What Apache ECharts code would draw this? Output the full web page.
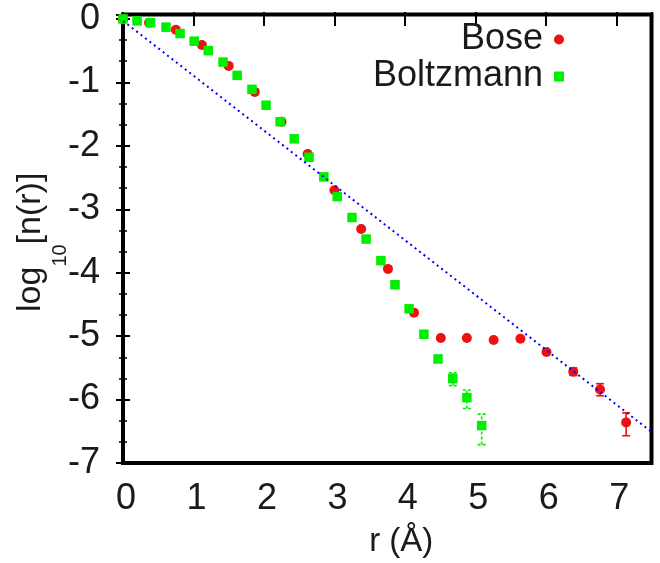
<!DOCTYPE html>
<html>
<head>
<meta charset="utf-8">
<script src="https://cdn.jsdelivr.net/npm/echarts@6/dist/echarts.min.js"></script>
<style>
html,body{margin:0;padding:0;background:#fff;}
#chart{width:660px;height:563px;}
</style>
</head>
<body>
<div id="chart"></div>
<script>
// ---- data ----
const boseR   = [0, 0.37, 0.75, 1.12, 1.50, 1.87, 2.25, 2.62, 3.00, 3.38, 3.76, 4.13, 4.51, 4.88, 5.26, 5.64, 6.01, 6.39, 6.77, 7.14];
const boseLog = [0, -0.06, -0.17, -0.41, -0.74, -1.15, -1.62, -2.13, -2.70, -3.31, -3.94, -4.63, -5.03, -5.03, -5.06, -5.04, -5.25, -5.56, -5.84, -6.36];
const boseErrR  = [6.39, 6.77, 7.14];
const boseErrLo = [-5.62, -5.94, -6.57];
const boseErrHi = [-5.50, -5.75, -6.21];

const boltzR   = [0, 0.20, 0.39, 0.61, 0.81, 1.01, 1.21, 1.42, 1.62, 1.83, 2.03, 2.23, 2.43, 2.64, 2.85, 3.04, 3.25, 3.45, 3.66, 3.86, 4.06, 4.27, 4.47, 4.68, 4.88, 5.09];
const boltzLog = [0, -0.03, -0.06, -0.13, -0.23, -0.35, -0.50, -0.68, -0.89, -1.11, -1.36, -1.62, -1.89, -2.18, -2.49, -2.80, -3.13, -3.47, -3.81, -4.19, -4.57, -4.97, -5.36, -5.67, -5.97, -6.41];
const boltzErrR  = [4.68, 4.88, 5.09];
const boltzErrLo = [-5.78, -6.14, -6.71];
const boltzErrHi = [-5.58, -5.85, -6.23];

const fitR   = [0, 7.5];
const fitLog = [-0.03, -6.51];

const xTicks = [0, 1, 2, 3, 4, 5, 6, 7];
const yTicks = [-7, -6, -5, -4, -3, -2, -1, 0];

// ---- chart ----
const FONT = '"Liberation Sans", Arial, Helvetica, sans-serif';
const TXT = '#1a1a1a';
const zip = (a, b) => a.map((v, i) => [v, b[i]]);
const zip3 = (a, b, c) => a.map((v, i) => [v, b[i], c[i]]);
const intFmt = list => v => (list.indexOf(Math.round(v * 1000) / 1000) >= 0 ? String(Math.round(v)) : '');

function errRender(color, dash) {
  return function (params, api) {
    const x = api.value(0), lo = api.value(1), hi = api.value(2);
    const p1 = api.coord([x, lo]), p2 = api.coord([x, hi]);
    const w = 4;
    const style = { stroke: color, lineWidth: 1.6, lineDash: dash, fill: null };
    return {
      type: 'group',
      children: [
        { type: 'line', shape: { x1: p1[0], y1: p1[1], x2: p2[0], y2: p2[1] }, style: style },
        { type: 'line', shape: { x1: p1[0] - w, y1: p1[1], x2: p1[0] + w, y2: p1[1] }, style: style },
        { type: 'line', shape: { x1: p2[0] - w, y1: p2[1], x2: p2[0] + w, y2: p2[1] }, style: style }
      ]
    };
  };
}

const xBase = {
  type: 'value', min: 0, max: 7.5, interval: 1,
  splitLine: { show: false },
  axisLine: { show: false },
  axisTick: { show: true, inside: true, length: 7, lineStyle: { color: '#000', width: 2 } }
};
const yBase = {
  type: 'value', min: -7, max: 0.07, interval: 1,
  splitLine: { show: false },
  axisLine: { show: false },
  axisTick: { show: true, inside: true, length: 7, lineStyle: { color: '#000', width: 2 } },
  minorTick: { show: true, splitNumber: 3, length: 4, lineStyle: { color: '#000', width: 1.5 } }
};

const option = {
  animation: false,
  backgroundColor: '#fff',
  textStyle: { fontFamily: FONT },
  grid: { left: 123, right: 8.5, top: 14.5, bottom: 99.5, show: true, borderColor: '#000', borderWidth: 4, backgroundColor: 'transparent' },
  xAxis: [
    Object.assign({}, xBase, {
      position: 'bottom',
      axisLabel: { show: true, fontSize: 36, color: TXT, fontFamily: FONT, margin: 18, padding: [0, 0, 0, 6], formatter: intFmt(xTicks) },
      name: 'r (Å)', nameLocation: 'middle', nameGap: 62,
      nameTextStyle: { fontSize: 33, color: TXT, fontFamily: FONT, padding: [0, 0, 0, 28] }
    }),
    Object.assign({}, xBase, { position: 'top', axisLabel: { show: false } })
  ],
  yAxis: [
    Object.assign({}, yBase, {
      position: 'left',
      axisLabel: { show: true, fontSize: 36, color: TXT, fontFamily: FONT, margin: 23, padding: [4, 0, 0, 0], formatter: intFmt(yTicks) }
    }),
    Object.assign({}, yBase, { position: 'right', axisLabel: { show: false } })
  ],
  legend: {
    orient: 'vertical', align: 'right', right: 96, top: 21, padding: 0,
    itemWidth: 10, itemHeight: 10, itemGap: 0,
    textStyle: { fontSize: 36, color: TXT, fontFamily: FONT, lineHeight: 37, padding: [0, 6, 0, 0] },
    data: [{ name: 'Bose', icon: 'circle' }, { name: 'Boltzmann', icon: 'rect' }],
    selectedMode: false
  },
  graphic: [
    { type: 'text', x: 31, y: 312, rotation: Math.PI / 2,
      style: { text: 'log', fontSize: 34, fontFamily: FONT, fill: TXT, align: 'left', verticalAlign: 'middle' } },
    { type: 'text', x: 60, y: 266.6, rotation: Math.PI / 2,
      style: { text: '10', fontSize: 20, fontFamily: FONT, fill: TXT, align: 'left', verticalAlign: 'middle' } },
    { type: 'text', x: 31, y: 244.4, rotation: Math.PI / 2,
      style: { text: '[n(r)]', fontSize: 34, fontFamily: FONT, fill: TXT, align: 'left', verticalAlign: 'middle' } }
  ],
  series: [
    { name: 'BoseErr', type: 'custom', z: 2, renderItem: errRender('#ee1111', null),
      encode: { x: 0, y: [1, 2] }, data: zip3(boseErrR, boseErrLo, boseErrHi), silent: true },
    { name: 'Bose', type: 'scatter', z: 3, symbol: 'circle', symbolSize: 10,
      itemStyle: { color: '#ee1111', opacity: 1 }, data: zip(boseR, boseLog) },
    { name: 'BoltzErr', type: 'custom', z: 4, renderItem: errRender('#00ee00', [3, 2]),
      encode: { x: 0, y: [1, 2] }, data: zip3(boltzErrR, boltzErrLo, boltzErrHi), silent: true },
    { name: 'Boltzmann', type: 'scatter', z: 5, symbol: 'rect', symbolSize: 9.5,
      itemStyle: { color: '#00ee00', opacity: 1 }, data: zip(boltzR, boltzLog) },
    { name: 'fit', type: 'line', z: 6, symbol: 'none', data: zip(fitR, fitLog),
      lineStyle: { color: '#0000ff', width: 2, type: [2, 3.6] }, silent: true }
  ]
};

const chart = echarts.init(document.getElementById('chart'), null, { renderer: 'canvas' });
chart.setOption(option);
</script>
</body>
</html>
